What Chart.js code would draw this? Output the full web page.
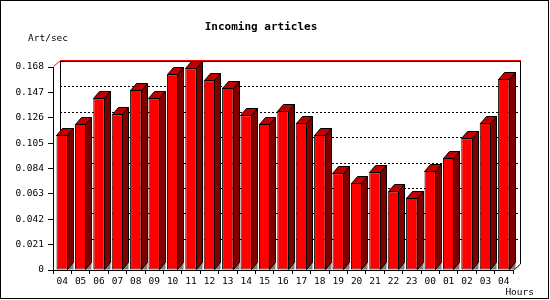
<!DOCTYPE html>
<html>
<head>
<meta charset="utf-8">
<script src="https://cdn.jsdelivr.net/npm/chart.js@4/dist/chart.umd.min.js"></script>
<style>
  body { margin: 0; background: #fff; }
  canvas { display: block; }
</style>
</head>
<body>
<canvas id="barchart" width="550" height="300"></canvas>
<script>
const hours = ["04", "05", "06", "07", "08", "09", "10", "11", "12", "13", "14", "15", "16",
  "17", "18", "19", "20", "21", "22", "23", "00", "01", "02", "03", "04"];
const artPerSec = [0.112, 0.121, 0.142, 0.129, 0.149, 0.142, 0.162, 0.167, 0.157, 0.151, 0.128, 0.121,
  0.132, 0.122, 0.112, 0.080, 0.072, 0.081, 0.065, 0.060, 0.082, 0.093, 0.109, 0.122, 0.158];
const yTicks = [0, 0.021, 0.042, 0.063, 0.084, 0.105, 0.126, 0.147, 0.168];

const mono = "'DejaVu Sans Mono', monospace";

// 3d look: back wall, dotted grid, bar sides and tops
const threeD = {
  id: "threeD",
  beforeDatasetsDraw(chart) {
    const c = chart.ctx, a = chart.chartArea, y = chart.scales.y;
    const wx = 7, wy = 6;
    c.save();
    c.lineWidth = 1;
    c.strokeStyle = "#000";
    c.setLineDash([2, 2]);
    yTicks.slice(1, -1).forEach(t => {
      const py = Math.round(y.getPixelForValue(t)) - wy + 0.5;
      c.beginPath();
      c.moveTo(a.left + wx, py);
      c.lineTo(a.right + wx, py);
      c.stroke();
    });
    c.setLineDash([]);
    c.beginPath();
    c.moveTo(a.left + wx + 0.5, a.top - wy);
    c.lineTo(a.left + wx + 0.5, a.bottom - wy);
    c.moveTo(a.right + wx + 0.5, a.top - wy);
    c.lineTo(a.right + wx + 0.5, a.bottom - wy);
    c.lineTo(a.right + 0.5, a.bottom + 0.5);
    c.moveTo(a.left + wx, a.top - wy + 0.5);
    c.lineTo(a.right + wx + 1, a.top - wy + 0.5);
    c.stroke();
    c.strokeStyle = "#f00";
    c.beginPath();
    c.moveTo(a.left + 0.5, a.top - 0.5);
    c.lineTo(a.left + wx + 0.5, a.top - wy - 0.5);
    c.lineTo(a.right + wx + 1, a.top - wy - 0.5);
    c.stroke();
    c.restore();
  },
  afterDatasetsDraw(chart) {
    const c = chart.ctx;
    const dx = 6, dy = 7;
    c.save();
    c.lineWidth = 1;
    c.strokeStyle = "#000";
    chart.getDatasetMeta(0).data.forEach(bar => {
      const L = Math.round(bar.x - bar.width / 2) + 0.5;
      const R = Math.round(bar.x + bar.width / 2) - 0.5;
      const T = Math.round(bar.y) + 0.5;
      const B = Math.round(bar.base) - 0.5;
      // floor shadow
      c.fillStyle = "#808080";
      c.beginPath();
      c.moveTo(R, B); c.lineTo(R + dx, B); c.lineTo(R + dx, B - dy); c.closePath();
      c.fill();
      // side
      c.fillStyle = "#800000";
      c.beginPath();
      c.moveTo(R, T); c.lineTo(R + dx, T - dy); c.lineTo(R + dx, B - dy); c.lineTo(R, B); c.closePath();
      c.fill(); c.stroke();
      // top
      c.fillStyle = "#c00000";
      c.beginPath();
      c.moveTo(L, T); c.lineTo(L + dx, T - dy); c.lineTo(R + dx, T - dy); c.lineTo(R, T); c.closePath();
      c.fill(); c.stroke();
    });
    c.restore();
  },
  afterDraw(chart) {
    const c = chart.ctx;
    c.save();
    c.fillStyle = "#000";
    c.font = "bold 11px " + mono;
    c.textAlign = "center";
    c.textBaseline = "middle";
    c.fillText("Incoming articles", 261, 27);
    c.font = "9.5px " + mono;
    c.textAlign = "left";
    c.textBaseline = "alphabetic";
    c.fillText("Art/sec", 28, 41);
    c.textAlign = "right";
    c.fillText("Hours", 534, 295);
    c.strokeStyle = "#000";
    c.lineWidth = 1;
    c.strokeRect(0.5, 0.5, 548, 298);
    c.restore();
  }
};

new Chart(document.getElementById("barchart"), {
  type: "bar",
  data: {
    labels: hours,
    datasets: [
      {
        label: "Incoming articles",
        data: artPerSec,
        backgroundColor: "#ff0000",
        borderColor: "#000",
        borderWidth: 1,
        borderSkipped: false,
        barPercentage: 0.62,
        categoryPercentage: 1,
      },
    ],
  },
  options: {
    responsive: false,
    animation: false,
    devicePixelRatio: 1,
    layout: { padding: { top: 67, right: 37, bottom: 0, left: 0 } },
    plugins: {
      legend: { display: false },
      tooltip: { enabled: false },
    },
    scales: {
      x: {
        afterFit: s => { s.height = 30; },
        grid: { drawOnChartArea: false, offset: true, tickLength: 4, color: "#000" },
        border: { display: true, color: "#000" },
        ticks: { color: "#000", font: { family: mono, size: 9.5 }, padding: 2, maxRotation: 0, autoSkip: false },
      },
      y: {
        min: 0,
        max: 0.168,
        afterFit: s => { s.width = 53; },
        afterBuildTicks: s => { s.ticks = yTicks.map(v => ({ value: v })); },
        grid: { drawOnChartArea: false, tickLength: 5, color: "#000" },
        border: { display: true, color: "#000" },
        ticks: {
          color: "#000",
          font: { family: mono, size: 9.5 },
          padding: 4,
          callback: v => (v === 0 ? "0" : v.toFixed(3)),
        },
      },
    },
  },
  plugins: [threeD],
});
</script>
</body>
</html>
